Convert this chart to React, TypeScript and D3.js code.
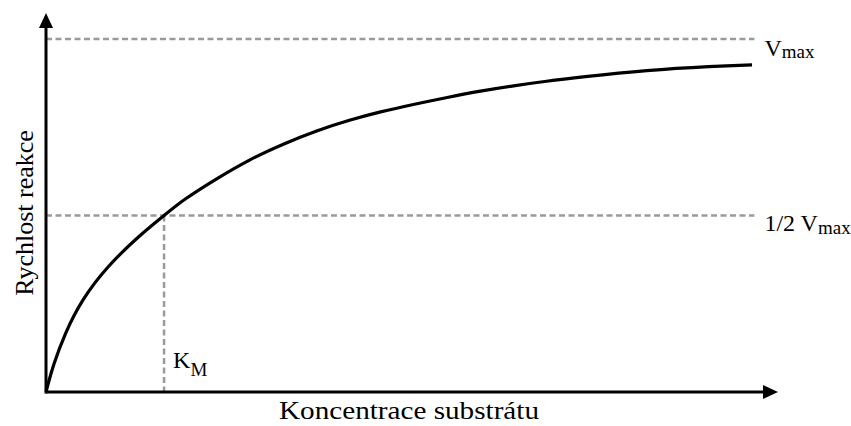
import React from "react";
import * as d3 from "d3";

// Substrate concentration (in units of K_M) and reaction rate (fraction of Vmax)
const concentration = [0, 0.02, 0.057, 0.161, 0.302, 0.514, 0.796, 1.0, 1.163, 1.446, 1.728, 2.01, 2.293, 2.575, 2.83, 3.11, 3.4, 3.68, 3.96, 4.24, 4.52, 5.09, 5.65, 5.98];
const rate = [0, 0.025, 0.072, 0.167, 0.261, 0.355, 0.445, 0.5, 0.545, 0.605, 0.66, 0.703, 0.741, 0.771, 0.794, 0.815, 0.835, 0.853, 0.868, 0.881, 0.892, 0.912, 0.923, 0.927];

const KM = 1;
const VMAX = 1;
const HALF_VMAX = 0.5;
const X_MAX = 6.2;
const Y_MAX = 1.074;
const GUIDE_END = 6.0;

const xAxisTitle = "Koncentrace substrátu";
const yAxisTitle = "Rychlost reakce";

const W = 851;
const H = 426;
const FONT = "'Liberation Serif', 'Times New Roman', serif";

export default function App() {
  const x = d3.scaleLinear().domain([0, X_MAX]).range([46, 778]);
  const y = d3.scaleLinear().domain([0, Y_MAX]).range([392, 13]);

  const pts = concentration.map((c, i) => [c, rate[i]] as [number, number]);
  const line = d3
    .line<[number, number]>()
    .x((d) => x(d[0]))
    .y((d) => y(d[1]))
    .curve(d3.curveBasis);

  const x0 = x(0);
  const y0 = y(0);
  const dash = { stroke: "#9a9a9a", strokeWidth: 2.5, strokeDasharray: "6,3.5" };

  return (
    <svg
      width={W}
      height={H}
      style={{ position: "absolute", left: 0, top: 0, background: "#fff" }}
      fontFamily={FONT}
    >
      {/* guide lines */}
      <line x1={x0} x2={x(GUIDE_END)} y1={y(VMAX)} y2={y(VMAX)} {...dash} />
      <line x1={x0} x2={x(GUIDE_END)} y1={y(HALF_VMAX)} y2={y(HALF_VMAX)} {...dash} />
      <line x1={x(KM)} x2={x(KM)} y1={y(HALF_VMAX)} y2={y0} {...dash} />

      {/* curve */}
      <path d={line(pts) || ""} fill="none" stroke="#000" strokeWidth={3.2} />

      {/* axes */}
      <line x1={x0} x2={x(X_MAX) - 12} y1={y0} y2={y0} stroke="#000" strokeWidth={3} />
      <line x1={x0} x2={x0} y1={y0 + 1.5} y2={y(Y_MAX) + 12} stroke="#000" strokeWidth={3} />
      <path
        d={`M${x(X_MAX)},${y0} L${x(X_MAX) - 15},${y0 - 7} L${x(X_MAX) - 15},${y0 + 7} Z`}
        fill="#000"
      />
      <path
        d={`M${x0},${y(Y_MAX)} L${x0 - 7},${y(Y_MAX) + 15} L${x0 + 7},${y(Y_MAX) + 15} Z`}
        fill="#000"
      />

      {/* labels */}
      <text x={x(GUIDE_END) + 10} y={y(VMAX) + 17} fontSize={24} fill="#000">
        V<tspan fontSize={19} dy={2}>max</tspan>
      </text>
      <text x={x(GUIDE_END) + 10} y={y(HALF_VMAX) + 15} fontSize={24} fill="#000">
        1/2 V<tspan fontSize={19} dy={3}>max</tspan>
      </text>
      <text x={x(KM) + 9} y={y0 - 24} fontSize={24} fill="#000">
        K<tspan fontSize={19} dy={8}>M</tspan>
      </text>
      <text
        x={(x0 + x(X_MAX)) / 2 - 3}
        y={H - 7}
        fontSize={25}
        textAnchor="middle"
        fill="#000"
        textLength={260}
        lengthAdjust="spacingAndGlyphs"
      >
        {xAxisTitle}
      </text>
      <text
        transform={`translate(33, 213) rotate(-90)`}
        fontSize={26}
        textAnchor="middle"
        fill="#000"
      >
        {yAxisTitle}
      </text>
    </svg>
  );
}
